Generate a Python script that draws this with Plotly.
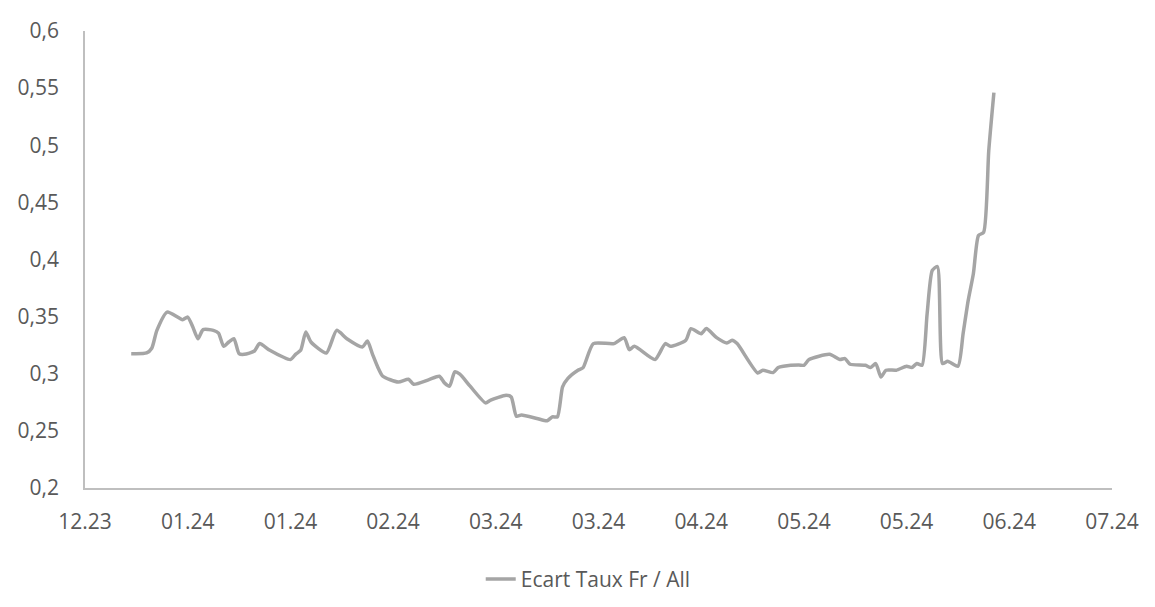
import plotly.graph_objects as go

dates = [
    "2023-12-28", "2023-12-31", "2024-01-01", "2024-01-02", "2024-01-04", "2024-01-07",
    "2024-01-08", "2024-01-09", "2024-01-10", "2024-01-11", "2024-01-13", "2024-01-14",
    "2024-01-15", "2024-01-16", "2024-01-17", "2024-01-18", "2024-01-19", "2024-01-21",
    "2024-01-22", "2024-01-24", "2024-01-28", "2024-01-29", "2024-01-30", "2024-01-31",
    "2024-02-01", "2024-02-04", "2024-02-06", "2024-02-08", "2024-02-11", "2024-02-12",
    "2024-02-13", "2024-02-14", "2024-02-15", "2024-02-18", "2024-02-20", "2024-02-21",
    "2024-02-24", "2024-02-26", "2024-02-27", "2024-02-28", "2024-02-29", "2024-03-01",
    "2024-03-03", "2024-03-06", "2024-03-07", "2024-03-10", "2024-03-11", "2024-03-12",
    "2024-03-13", "2024-03-16", "2024-03-18", "2024-03-19", "2024-03-20", "2024-03-21",
    "2024-03-22", "2024-03-24", "2024-03-25", "2024-03-27", "2024-03-31", "2024-04-02",
    "2024-04-03", "2024-04-04", "2024-04-08", "2024-04-10", "2024-04-11", "2024-04-14",
    "2024-04-15", "2024-04-17", "2024-04-18", "2024-04-20", "2024-04-22", "2024-04-23",
    "2024-04-24", "2024-04-28", "2024-04-29", "2024-05-01", "2024-05-02", "2024-05-03",
    "2024-05-06", "2024-05-07", "2024-05-08", "2024-05-12", "2024-05-14", "2024-05-15",
    "2024-05-16", "2024-05-19", "2024-05-20", "2024-05-21", "2024-05-22", "2024-05-23",
    "2024-05-25", "2024-05-27", "2024-05-28", "2024-05-29", "2024-05-30", "2024-05-31",
    "2024-06-01", "2024-06-02", "2024-06-03", "2024-06-04", "2024-06-06", "2024-06-07",
    "2024-06-08", "2024-06-09", "2024-06-10", "2024-06-11", "2024-06-12", "2024-06-13",
]

ecart = [
    0.3176, 0.3182, 0.3223, 0.3380, 0.3540, 0.3473,
    0.3496, 0.3409, 0.3307, 0.3386, 0.3380, 0.3356,
    0.3240, 0.3278, 0.3307, 0.3176, 0.3170, 0.3199,
    0.3264, 0.3205, 0.3124, 0.3170, 0.3205, 0.3365,
    0.3278, 0.3182, 0.3380, 0.3307, 0.3234, 0.3286,
    0.3170, 0.3060, 0.2978, 0.2928, 0.2952, 0.2908,
    0.2949, 0.2978, 0.2920, 0.2891, 0.3016, 0.2996,
    0.2891, 0.2745, 0.2769, 0.2812, 0.2797, 0.2629,
    0.2638, 0.2609, 0.2588, 0.2623, 0.2623, 0.2885,
    0.2958, 0.3031, 0.3054, 0.3264, 0.3264, 0.3316,
    0.3211, 0.3240, 0.3124, 0.3264, 0.3240, 0.3293,
    0.3395, 0.3351, 0.3395, 0.3316, 0.3269, 0.3293,
    0.3264, 0.3007, 0.3031, 0.3010, 0.3054, 0.3066,
    0.3077, 0.3074, 0.3124, 0.3170, 0.3124, 0.3133,
    0.3083, 0.3074, 0.3054, 0.3089, 0.2972, 0.3031,
    0.3031, 0.3066, 0.3054, 0.3089, 0.3074, 0.3526,
    0.3904, 0.3939, 0.3089, 0.3109, 0.3066, 0.3351,
    0.3642, 0.3875, 0.4210, 0.4238, 0.4952, 0.5460,
]

series_name = "Ecart Taux Fr / All"
x_range = ["2023-12-19", "2024-07-06"]
x_tick0 = "2023-12-19"
x_dtick_days = 20
y_range = [0.2, 0.6]
y_dtick = 0.05

text_color = "#595959"
font_family = "Open Sans, Liberation Sans, DejaVu Sans, sans-serif"

fig = go.Figure()
fig.add_trace(go.Scatter(
    x=dates, y=ecart, mode="lines", name=series_name,
    line=dict(color="#A5A5A5", width=3.5, shape="spline", smoothing=0.6),
    showlegend=True,
))

fig.update_layout(
    width=1155, height=607,
    paper_bgcolor="white", plot_bgcolor="white",
    margin=dict(l=85, r=43, t=31, b=119, autoexpand=False),
    font=dict(family=font_family, size=21, color=text_color),
    separators=",.",
    showlegend=True,
    legend=dict(orientation="h", x=0.49, xanchor="center", y=-0.155, yanchor="top",
                font=dict(size=21, color=text_color)),
)
fig.update_xaxes(
    type="date", range=x_range, tick0=x_tick0, dtick=x_dtick_days * 86400000,
    tickformat="%m.%y", showgrid=False, zeroline=False,
    showline=True, linecolor="#BFBFBF", linewidth=1.5, ticks="", ticklabelstandoff=14,
)
fig.update_yaxes(
    range=y_range, dtick=y_dtick, tickformat="~g", showgrid=False, zeroline=False,
    showline=True, linecolor="#BFBFBF", linewidth=1.5, ticks="", ticklabelstandoff=20,
)

fig.write_html(
    "out.html",
    config={"displayModeBar": False},
    post_script="document.body.style.margin='0';document.body.style.overflow='hidden';",
)
